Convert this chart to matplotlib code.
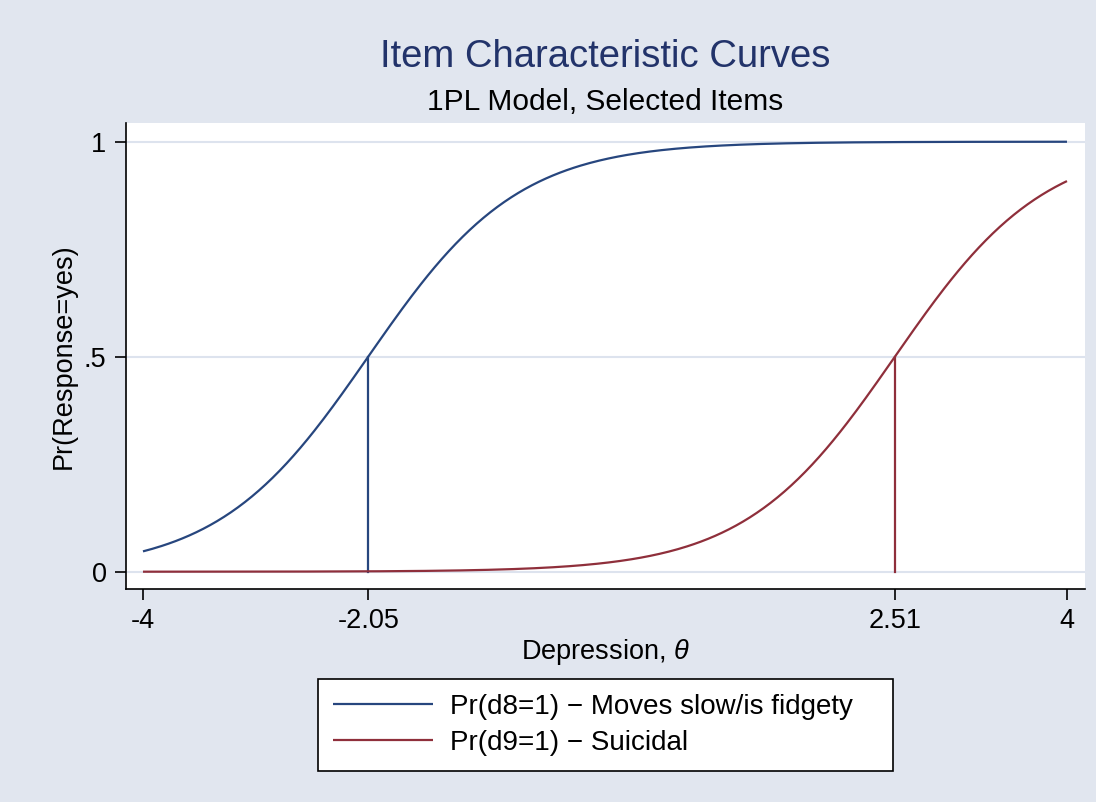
import numpy as np
import matplotlib
matplotlib.use("Agg")
import matplotlib.pyplot as plt

# Item parameters (1PL model)
items = ["Pr(d8=1) \u2212 Moves slow/is fidgety", "Pr(d9=1) \u2212 Suicidal"]
difficulty = [-2.05, 2.51]
discrimination = 1.54
theta_range = [-4, 4]
xticks = [-4, -2.05, 2.51, 4]
xtick_labels = ["-4", "-2.05", "2.51", "4"]
yticks = [0, 0.5, 1]
ytick_labels = ["0", ".5", "1"]
colors = ["#27467E", "#8F2F3B"]

plt.rcParams['font.family'] = ['Liberation Sans', 'DejaVu Sans']
plt.rcParams['mathtext.fontset'] = 'custom'
plt.rcParams['mathtext.it'] = 'Liberation Sans:italic'

bg = "#E1E6EF"
fig = plt.figure(figsize=(10.96, 8.02), dpi=100, facecolor=bg)
W, H = 1096, 802
ax = fig.add_axes([126 / W, 1 - 589 / H, (1085 - 126) / W, (589 - 123) / H])
ax.set_facecolor("white")

theta = np.linspace(theta_range[0], theta_range[1], 400)
lines = []
for b, c, lab in zip(difficulty, colors, items):
    p = 1 / (1 + np.exp(-discrimination * (theta - b)))
    ln, = ax.plot(theta, p, color=c, lw=1.6, label=lab, zorder=3, solid_capstyle='butt')
    lines.append(ln)
    ax.plot([b, b], [0, 0.5], color=c, lw=1.6, zorder=3)

for y in yticks:
    ax.axhline(y, color="#DDE3EE", lw=1.5, zorder=1)

ax.set_xlim(-4.147, 4.156)
ax.set_ylim(-0.0402, 1.0435)
ax.set_xticks(xticks)
ax.set_xticklabels(xtick_labels)
ax.set_yticks(yticks)
ax.set_yticklabels(ytick_labels)
for s in ["top", "right"]:
    ax.spines[s].set_visible(False)
for s in ["left", "bottom"]:
    ax.spines[s].set_linewidth(1.2)
    ax.spines[s].set_color("black")
ax.tick_params(axis='both', length=8, width=1.2, labelsize=19.5, pad=6, color="black")

ax.set_xlabel(r"Depression, $\theta$", fontsize=19.5, labelpad=2)
ax.set_ylabel("Pr(Response=yes)", fontsize=19.5, labelpad=5)

fig.text(605.5 / W, 1 - 57 / H, "Item Characteristic Curves", ha="center", va="center",
         fontsize=27.5, color="#22336A")
fig.text(605.5 / W, 1 - 102 / H, "1PL Model, Selected Items", ha="center", va="center",
         fontsize=21.5, color="black")

leg = fig.legend(handles=lines, labels=items, loc="center",
                 bbox_to_anchor=(318 / W, 1 - 771 / H, 575 / W, 92 / H),
                 mode="expand", borderaxespad=0, fontsize=20, handlelength=3.6,
                 handletextpad=0.6, labelspacing=0.35, borderpad=0.55, frameon=True,
                 fancybox=False, edgecolor="black", facecolor="white", framealpha=1)
leg.get_frame().set_linewidth(1.2)

fig.savefig("out.png", dpi=100, facecolor=bg)
